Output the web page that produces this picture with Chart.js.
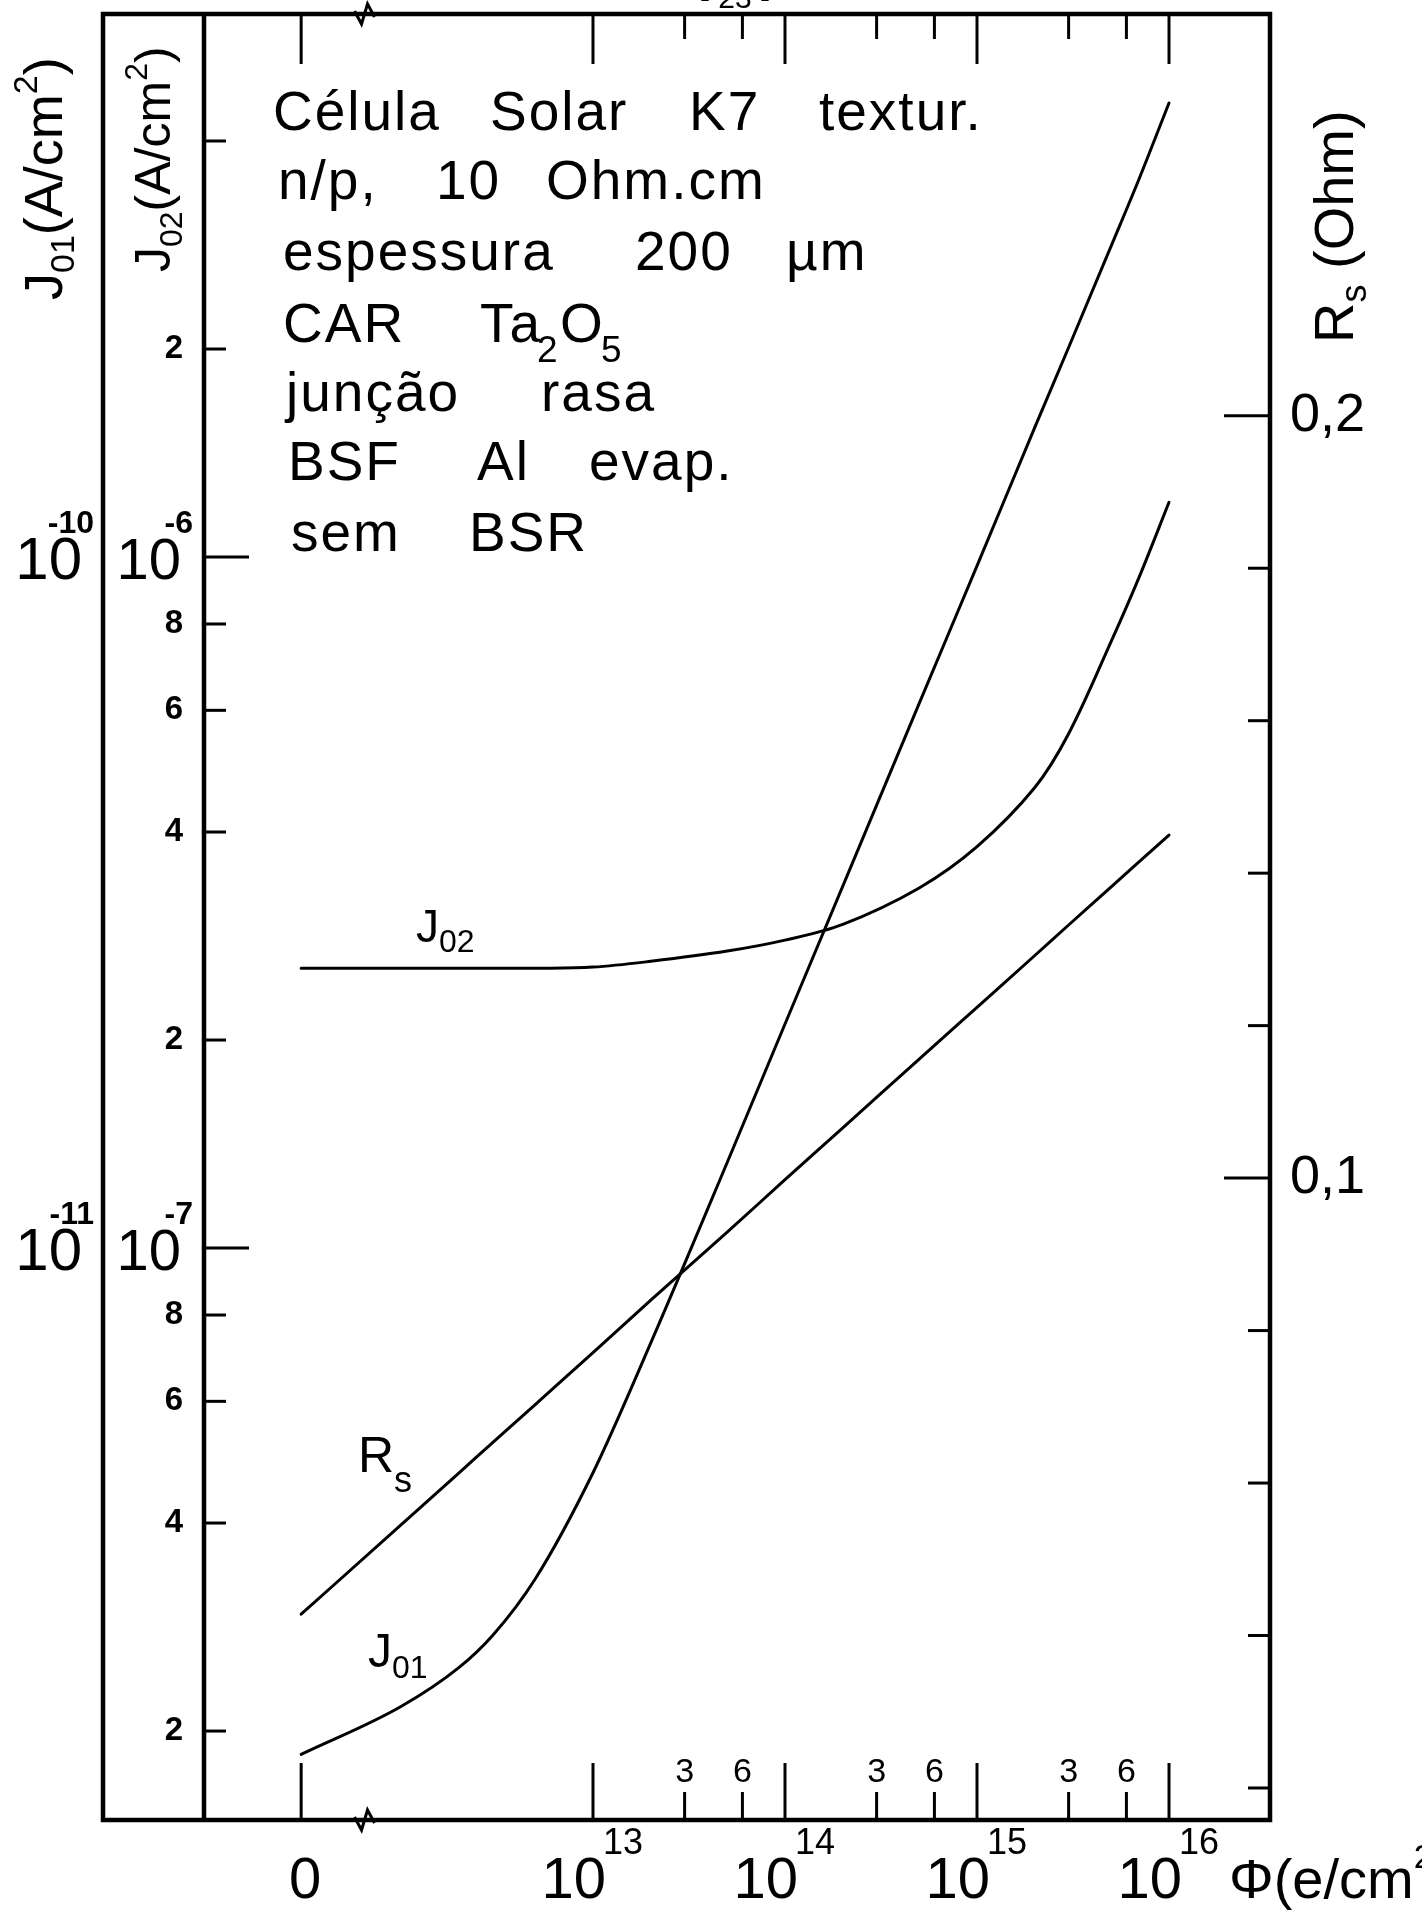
<!DOCTYPE html>
<html>
<head>
<meta charset="utf-8">
<script src="https://cdn.jsdelivr.net/npm/chart.js@4.4.0/dist/chart.umd.min.js"></script>
<style>
  html, body { margin: 0; padding: 0; background: #fff; }
  canvas { display: block; }
</style>
</head>
<body>
<canvas id="chart" width="1422" height="1910"></canvas>
<script>
// Electron fluence (e/cm2); 0 is the unirradiated cell, drawn left of the axis break
const fluence = [0, 1e12, 2e12, 3e12, 5e12, 1e13, 2e13, 5e13, 1e14, 2e14, 5e14, 1e15, 2e15, 3e15, 5e15, 7e15, 1e16];

// Saturation current densities (A/cm2) and series resistance (Ohm)
const j01 = [1.85e-12, 2.17e-12, 2.47e-12, 2.75e-12, 3.32e-12, 4.73e-12, 7.29e-12, 1.33e-11, 2.11e-11,
             3.34e-11, 6.14e-11, 9.71e-11, 1.54e-10, 2.01e-10, 2.82e-10, 3.53e-10, 4.54e-10];
const j02 = [2.54e-7, 2.54e-7, 2.54e-7, 2.54e-7, 2.54e-7, 2.55e-7, 2.60e-7, 2.69e-7, 2.79e-7,
             2.94e-7, 3.32e-7, 3.81e-7, 4.64e-7, 5.55e-7, 7.55e-7, 9.36e-7, 1.20e-6];
const rs = [0.0428, 0.0545, 0.0613, 0.0653, 0.0703, 0.0771, 0.0840, 0.0929, 0.0998,
            0.1066, 0.1156, 0.1224, 0.1292, 0.1332, 0.1382, 0.1415, 0.1450];

// Tick marks
const xDecades = [0, 1e13, 1e14, 1e15, 1e16];
const xDecadeExp = ['', '13', '14', '15', '16'];
const xMinor = [3e13, 6e13, 3e14, 6e14, 3e15, 6e15];
const xMinorLabels = ['3', '6', '3', '6', '3', '6'];
const j02Decades = [1e-7, 1e-6];
const j02DecadeExp = ['-7', '-6'];
const j02Minor = [2e-8, 4e-8, 6e-8, 8e-8, 2e-7, 4e-7, 6e-7, 8e-7, 2e-6, 4e-6];
const j02MinorLabels = ['2', '4', '6', '8', '2', '4', '6', '8', '2', ''];
const j01Decades = [1e-11, 1e-10];
const j01DecadeExp = ['-11', '-10'];
const rsTicks = [0.02, 0.04, 0.06, 0.08, 0.1, 0.12, 0.14, 0.16, 0.18, 0.2];
const rsTickLabels = ['', '', '', '', '0,1', '', '', '', '', '0,2'];

// Sample description
const noteLines = [
  [['Célula', 273], ['Solar', 490], ['K7', 689], ['textur.', 819]],
  [['n/p,', 278], ['10', 436], ['Ohm.cm', 546]],
  [['espessura', 283], ['200', 635], ['µm', 786]],
  [['CAR', 283], ['Ta', 480], ['2', 537, 'sub'], ['O', 560], ['5', 601, 'sub']],
  [['junção', 286], ['rasa', 541]],
  [['BSF', 288], ['Al', 477], ['evap.', 589]],
  [['sem', 291], ['BSR', 469]]
];
const noteBaselines = [130, 199, 270, 342, 411, 480, 551];

const FONT = '"Liberation Sans", Arial, sans-serif';

// log10 of the fluence, with 0 parked just left of the break
const ZERO_POS = 11.48;
const BREAK_POS = 11.81;
const pos = phi => phi === 0 ? ZERO_POS : Math.log10(phi);

const toPoints = vals => fluence.map((f, i) => ({ x: pos(f), y: vals[i] }));

function run(ctx, parts, x, y) {
  // parts: [text, size, dy]; drawn left to right from (x, y)
  ctx.textAlign = 'left';
  ctx.textBaseline = 'alphabetic';
  for (const [text, size, dy] of parts) {
    ctx.font = `${size}px ${FONT}`;
    ctx.fillText(text, x, y + (dy || 0));
    x += ctx.measureText(text).width;
  }
}

function tick(ctx, x1, y1, x2, y2) {
  ctx.beginPath();
  ctx.moveTo(x1, y1);
  ctx.lineTo(x2, y2);
  ctx.stroke();
}

function breakMark(ctx, x, y) {
  ctx.beginPath();
  ctx.moveTo(x - 10, y - 3);
  ctx.lineTo(x - 3, y + 10);
  ctx.lineTo(x + 3, y - 10);
  ctx.lineTo(x + 10, y + 3);
  ctx.stroke();
}

const axesPlugin = {
  id: 'axesPlugin',
  afterDraw(chart) {
    const { ctx, chartArea: a, scales } = chart;
    const sx = scales.x, sJ2 = scales.yJ02, sJ1 = scales.yJ01, sR = scales.yRs;
    const px = phi => sx.getPixelForValue(pos(phi));
    const outerLeft = 103;

    ctx.save();
    ctx.strokeStyle = '#000';
    ctx.fillStyle = '#000';
    ctx.lineCap = 'butt';

    // frame: outer box plus the inner J02 axis line
    ctx.lineWidth = 4.5;
    ctx.strokeRect(outerLeft, a.top, a.right - outerLeft, a.bottom - a.top);
    tick(ctx, a.left, a.top, a.left, a.bottom);

    // fluence ticks, top and bottom
    ctx.lineWidth = 3;
    xDecades.forEach(f => {
      const x = px(f);
      tick(ctx, x, a.top, x, a.top + 50);
      tick(ctx, x, a.bottom, x, a.bottom - 57);
    });
    xMinor.forEach(f => {
      const x = px(f);
      tick(ctx, x, a.top, x, a.top + 25);
      tick(ctx, x, a.bottom, x, a.bottom - 28);
    });

    // axis break marks
    const bx = sx.getPixelForValue(BREAK_POS);
    breakMark(ctx, bx, a.top);
    breakMark(ctx, bx, a.bottom);

    // J02 axis ticks
    j02Decades.forEach(v => {
      const y = sJ2.getPixelForValue(v);
      tick(ctx, a.left, y, a.left + 45, y);
    });
    j02Minor.forEach(v => {
      const y = sJ2.getPixelForValue(v);
      tick(ctx, a.left, y, a.left + 22, y);
    });

    // Rs axis ticks
    rsTicks.forEach((v, i) => {
      const y = sR.getPixelForValue(v);
      const len = rsTickLabels[i] ? 46 : 22;
      tick(ctx, a.right, y, a.right - len, y);
    });

    // fluence tick labels
    ctx.textBaseline = 'alphabetic';
    xDecades.forEach((f, i) => {
      const x = px(f);
      ctx.font = `58px ${FONT}`;
      if (!xDecadeExp[i]) {
        ctx.textAlign = 'center';
        ctx.fillText('0', x + 4, 1898);
        return;
      }
      ctx.textAlign = 'right';
      ctx.fillText('10', x + 13, 1898);
      ctx.font = `36px ${FONT}`;
      ctx.textAlign = 'left';
      ctx.fillText(xDecadeExp[i], x + 10, 1854);
    });
    ctx.font = `34px ${FONT}`;
    ctx.textAlign = 'center';
    xMinor.forEach((f, i) => ctx.fillText(xMinorLabels[i], px(f), 1782));
    run(ctx, [['Φ(e/cm', 56], ['2', 34, -30], [')', 56]], 1229, 1898);

    // J02 tick labels
    ctx.font = `bold 33px ${FONT}`;
    ctx.textAlign = 'right';
    ctx.textBaseline = 'middle';
    j02Minor.forEach((v, i) => {
      if (j02MinorLabels[i]) ctx.fillText(j02MinorLabels[i], 183, sJ2.getPixelForValue(v));
    });
    ctx.textBaseline = 'alphabetic';
    j02Decades.forEach((v, i) => {
      const y = sJ2.getPixelForValue(v);
      ctx.font = `58px ${FONT}`;
      ctx.fillText('10', 181, y + 22);
      ctx.font = `bold 32px ${FONT}`;
      ctx.fillText(j02DecadeExp[i], 193, y - 24);
    });

    // J01 tick labels share the J02 positions, four decades lower
    j01Decades.forEach((v, i) => {
      const y = sJ1.getPixelForValue(v);
      ctx.font = `60px ${FONT}`;
      ctx.fillText('10', 82, y + 22);
      ctx.font = `bold 32px ${FONT}`;
      ctx.fillText(j01DecadeExp[i], 94, y - 24);
    });

    // Rs tick labels
    ctx.font = `54px ${FONT}`;
    ctx.textAlign = 'left';
    ctx.textBaseline = 'middle';
    rsTicks.forEach((v, i) => {
      if (rsTickLabels[i]) ctx.fillText(rsTickLabels[i], 1290, sR.getPixelForValue(v));
    });

    // rotated axis titles
    const vertical = (x, y, parts) => {
      ctx.save();
      ctx.translate(x, y);
      ctx.rotate(-Math.PI / 2);
      run(ctx, parts, 0, 0);
      ctx.restore();
    };
    vertical(62, 300, [['J', 54], ['01', 34, 12], ['(A/cm', 54], ['2', 34, -25], [')', 54]]);
    vertical(170, 272, [['J', 50], ['02', 32, 12], ['(A/cm', 50], ['2', 32, -23], [')', 50]]);
    vertical(1353, 343, [['R', 56], ['s', 36, 13], [' (Ohm)', 56]]);

    // curve labels
    run(ctx, [['J', 46], ['02', 32, 10]], 416, 942);
    run(ctx, [['R', 50], ['s', 36, 20]], 358, 1472);
    run(ctx, [['J', 48], ['01', 32, 11]], 368, 1667);

    // sample description block
    ctx.letterSpacing = '2px';
    noteLines.forEach((line, i) => {
      const base = noteBaselines[i];
      line.forEach(([text, x, kind]) => {
        ctx.font = kind === 'sub' ? `37px ${FONT}` : `55px ${FONT}`;
        ctx.textAlign = 'left';
        ctx.textBaseline = 'alphabetic';
        ctx.fillText(text, x, kind === 'sub' ? base + 20 : base);
      });
    });
    ctx.letterSpacing = '0px';

    // page number cut by the top edge
    ctx.font = `30px ${FONT}`;
    ctx.textAlign = 'center';
    ctx.textBaseline = 'alphabetic';
    ctx.fillText('- 23 -', 735, 8);

    ctx.restore();
  }
};

const lineStyle = {
  borderColor: '#000',
  borderWidth: 3,
  pointRadius: 0,
  fill: false,
  borderCapStyle: 'round',
  borderJoinStyle: 'round'
};

new Chart(document.getElementById('chart'), {
  type: 'line',
  data: {
    datasets: [
      { label: 'J01', data: toPoints(j01), yAxisID: 'yJ01', cubicInterpolationMode: 'monotone', ...lineStyle },
      { label: 'J02', data: toPoints(j02), yAxisID: 'yJ02', tension: 0.35, ...lineStyle },
      { label: 'Rs', data: toPoints(rs), yAxisID: 'yRs', cubicInterpolationMode: 'monotone', ...lineStyle }
    ]
  },
  options: {
    responsive: false,
    animation: false,
    layout: { padding: { left: 204, right: 152, top: 14, bottom: 90 } },
    plugins: { legend: { display: false }, tooltip: { enabled: false } },
    scales: {
      x: { type: 'linear', min: 10.974, max: 16.526, bounds: 'data', display: false },
      yJ02: { type: 'logarithmic', min: 1.487e-8, max: 6.107e-6, bounds: 'data', display: false },
      yJ01: { type: 'logarithmic', min: 1.487e-12, max: 6.107e-10, bounds: 'data', display: false },
      yRs: { type: 'linear', min: 0.0158, max: 0.2527, bounds: 'data', display: false }
    }
  },
  plugins: [axesPlugin]
});
</script>
</body>
</html>
